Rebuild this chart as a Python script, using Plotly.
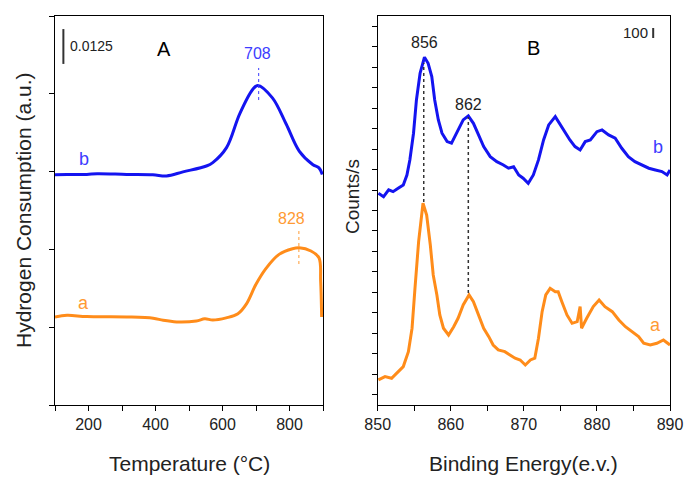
import plotly.graph_objects as go

# ---- Panel A: TPR (temperature, arbitrary units) ----
tpr_b_x = [100, 136, 195, 226, 314, 392, 433, 482, 552, 571, 612, 651, 690, 705, 749, 790, 829, 869, 888, 898]
tpr_b_y = [0.0740, 0.0741, 0.0741, 0.0743, 0.0741, 0.0740, 0.0736, 0.0749, 0.0768, 0.0779, 0.0827,
           0.0935, 0.1014, 0.1027, 0.0987, 0.0903, 0.0816, 0.0773, 0.0762, 0.0741]
tpr_a_x = [100, 136, 195, 314, 393, 423, 463, 522, 547, 571, 611, 646, 671, 700, 730, 769, 809, 829, 864, 888, 893, 896]
tpr_a_y = [0.0283, 0.0288, 0.0284, 0.0283, 0.0279, 0.0272, 0.0267, 0.0270, 0.0277, 0.0273, 0.0280,
           0.0293, 0.0324, 0.0388, 0.0439, 0.0484, 0.0502, 0.0505, 0.0495, 0.0473, 0.0398, 0.0283]

# ---- Panel B: XPS (binding energy, counts/s) ----
xps_b_x = [850.1, 850.8, 851.5, 852.1, 852.8, 853.5, 854.0, 854.4, 854.9, 855.3, 855.8, 856.4, 856.9,
           857.4, 857.8, 858.3, 858.8, 859.5, 860.1, 860.8, 861.7, 862.4, 863.1, 863.8, 864.5, 865.4,
           866.3, 867.2, 867.9, 868.6, 869.3, 869.9, 870.6, 871.3, 872.0, 872.7, 873.4, 874.3, 875.0,
           875.7, 876.3, 877.0, 877.7, 878.4, 879.1, 880.0, 880.7, 881.6, 882.5, 883.4, 884.3, 885.2,
           886.2, 887.1, 888.0, 888.9, 889.6, 890.0]
xps_b_y = [1968, 1935, 2001, 1984, 2017, 2050, 2147, 2294, 2555, 2880, 3141, 3297, 3238,
           3108, 2880, 2685, 2555, 2473, 2457, 2555, 2685, 2724, 2652, 2538, 2424, 2326,
           2277, 2245, 2213, 2228, 2147, 2115, 2066, 2147, 2294, 2489, 2636, 2717, 2636,
           2555, 2489, 2424, 2391, 2473, 2489, 2570, 2587, 2538, 2506, 2408, 2326, 2277,
           2245, 2213, 2196, 2180, 2147, 2196]
xps_a_x = [850.1, 851.0, 851.9, 852.8, 853.5, 854.2, 854.7, 855.1, 855.6, 856.2, 856.7, 857.2, 857.6,
           858.1, 858.5, 859.0, 859.7, 860.4, 861.0, 861.7, 862.5, 863.1, 863.8, 864.5, 865.2, 865.8,
           866.5, 867.4, 868.1, 868.8, 869.5, 870.2, 870.9, 871.5, 872.0, 872.5, 873.0, 873.6, 874.3,
           874.7, 875.2, 875.9, 876.6, 877.3, 877.7, 877.9, 878.6, 879.5, 880.3, 881.1, 882.1, 883.0,
           883.9, 884.8, 885.7, 886.4, 887.3, 888.2, 889.1, 890.0]
xps_a_y = [145, 177, 161, 226, 275, 421, 650, 1040, 1496, 1871, 1756, 1463, 1170,
           975, 780, 650, 584, 665, 747, 877, 975, 909, 780, 650, 568, 486,
           438, 421, 389, 357, 340, 291, 340, 357, 552, 812, 975, 1040, 1007,
           1007, 909, 780, 698, 714, 861, 650, 747, 861, 926, 861, 812, 731,
           665, 616, 568, 503, 486, 503, 535, 486]

BLUE = "#1414f0"
BLUE_T = "#3c3cff"
ORANGE = "#ff8c1a"
ORANGE_T = "#ff9a33"
FONT = "Liberation Sans, Arial, sans-serif"

fig = go.Figure()
fig.add_trace(go.Scatter(x=tpr_b_x, y=tpr_b_y, mode="lines", line=dict(color=BLUE, width=3, shape="spline"),
                         xaxis="x", yaxis="y", showlegend=False))
fig.add_trace(go.Scatter(x=tpr_a_x, y=tpr_a_y, mode="lines", line=dict(color=ORANGE, width=3, shape="spline"),
                         xaxis="x", yaxis="y", showlegend=False))
fig.add_trace(go.Scatter(x=xps_b_x, y=xps_b_y, mode="lines", line=dict(color=BLUE, width=3),
                         xaxis="x2", yaxis="y2", showlegend=False))
fig.add_trace(go.Scatter(x=xps_a_x, y=xps_a_y, mode="lines", line=dict(color=ORANGE, width=3),
                         xaxis="x2", yaxis="y2", showlegend=False))

axis_common = dict(showline=True, linecolor="black", linewidth=1, mirror=True, ticks="outside",
                   ticklen=5, tickcolor="black", showgrid=False, zeroline=False, automargin=False,
                   tickfont=dict(family=FONT, size=16, color="#222"))

tvals_a = [100, 200, 300, 400, 500, 600, 700, 800, 900]
ttext_a = ["", "200", "", "400", "", "600", "", "800", ""]
tvals_b = [850, 855, 860, 865, 870, 875, 880, 885, 890]
ttext_b = ["850", "", "860", "", "870", "", "880", "", "890"]

fig.update_layout(
    width=685, height=480,
    margin=dict(l=0, r=0, t=0, b=0, autoexpand=False),
    paper_bgcolor="white", plot_bgcolor="white",
    font=dict(family=FONT, color="#222"),
    xaxis=dict(domain=[55/685, 323/685], range=[100, 900], tickvals=tvals_a, ticktext=ttext_a,
               anchor="y", **axis_common),
    yaxis=dict(domain=[1-405/480, 1-16/480], range=[0, 0.125], dtick=0.025, tick0=0,
               showticklabels=False, anchor="x", **axis_common),
    xaxis2=dict(domain=[377.7/685, 670/685], range=[850, 890], tickvals=tvals_b, ticktext=ttext_b,
                anchor="y2", **axis_common),
    yaxis2=dict(domain=[1-405/480, 1-16/480], range=[-100, 3700], dtick=200, tick0=0,
                showticklabels=False, anchor="x2", **axis_common),
)

ann = []
def txt(x, y, s, color="#222", size=16, xref="x", yref="y", xanchor="center", textangle=0):
    ann.append(dict(x=x, y=y, text=s, showarrow=False, xref=xref, yref=yref, xanchor=xanchor,
                    yanchor="middle", textangle=textangle, font=dict(family=FONT, size=size, color=color)))

# Panel A texts
txt(704, 0.1128, "708", BLUE_T, 16)
txt(805, 0.0598, "828", ORANGE_T, 16)
txt(188, 0.0790, "b", BLUE_T, 18)
txt(184, 0.0328, "a", ORANGE_T, 18)
txt(425, 0.1144, "A", "black", 20)
txt(139, 0.1153, "0.0125", "#222", 14, xanchor="left")
# Panel B texts
txt(856.4, 3440, "856", "#222", 16, "x2", "y2")
txt(862.4, 2831, "862", "#222", 16, "x2", "y2")
txt(871.3, 3388, "B", "black", 20, "x2", "y2")
txt(887.3, 3534, "100", "#222", 15, "x2", "y2", xanchor="right")
txt(888.4, 2424, "b", BLUE_T, 18, "x2", "y2")
txt(888.0, 682, "a", ORANGE_T, 18, "x2", "y2")
# Axis titles
txt(189/685, 1-463/480, "Temperature (°C)", "#222", 21, "paper", "paper")
txt(523/685, 1-463/480, "Binding Energy(e.v.)", "#222", 21, "paper", "paper")
txt(23/685, 1-211/480, "Hydrogen Consumption (a.u.)", "#222", 21, "paper", "paper", textangle=-90)
txt(352/685, 1-197/480, "Counts/s", "#222", 19, "paper", "paper", textangle=-90)
fig.update_layout(annotations=ann)

shapes = [
    # scale bars
    dict(type="line", xref="x", yref="y", x0=125, x1=125, y0=0.1096, y1=0.1208, line=dict(color="#333", width=2)),
    dict(type="line", xref="x2", yref="y2", x0=887.7, x1=887.7, y0=3484, y1=3582, line=dict(color="#333", width=2)),
    # dotted peak markers
    dict(type="line", xref="x", yref="y", x0=708, x1=708, y0=0.0980, y1=0.1083, line=dict(color=BLUE_T, width=1, dash="dot")),
    dict(type="line", xref="x", yref="y", x0=828, x1=828, y0=0.0453, y1=0.0559, line=dict(color=ORANGE_T, width=1, dash="dot")),
    dict(type="line", xref="x2", yref="y2", x0=856.3, x1=856.3, y0=1883, y1=3241, line=dict(color="#333", width=1.5, dash="dot")),
    dict(type="line", xref="x2", yref="y2", x0=862.4, x1=862.4, y0=994, y1=2714, line=dict(color="#333", width=1.5, dash="dot")),
]
fig.update_layout(shapes=shapes)

fig.write_html("out.html", config={"displayModeBar": False},
               post_script="document.body.style.margin='0px';document.body.style.overflow='hidden';")
